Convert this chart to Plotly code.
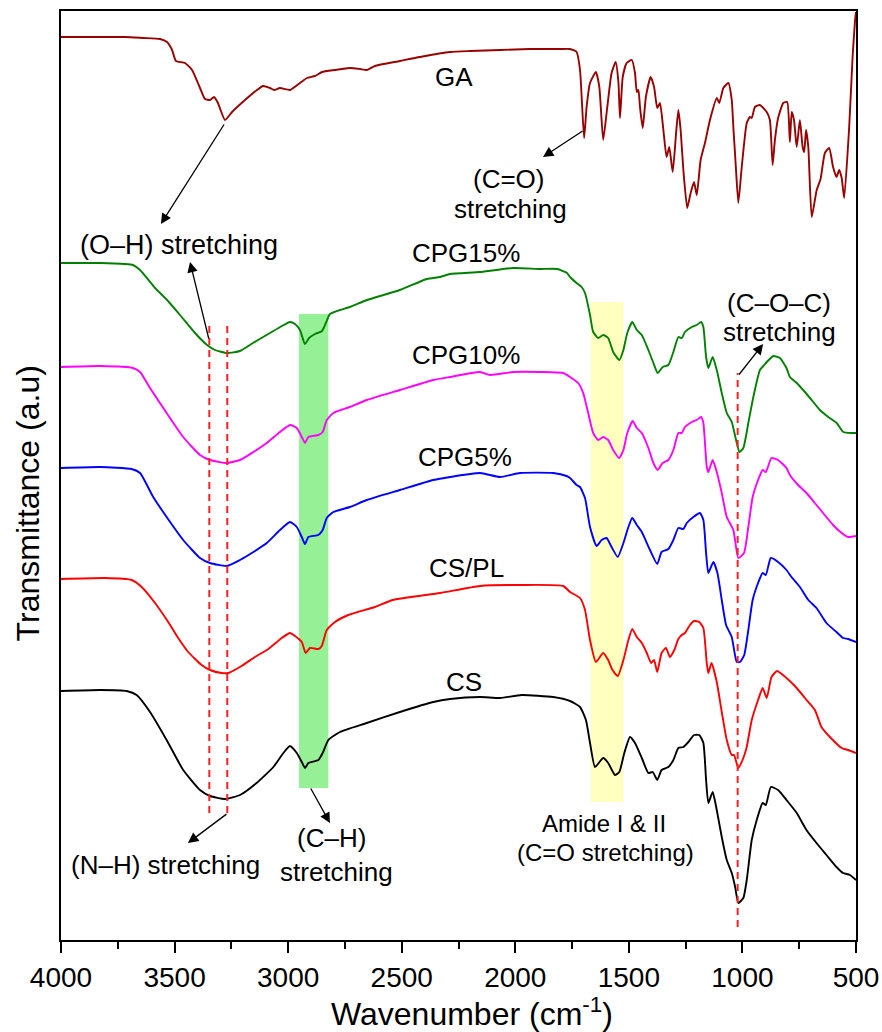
import plotly.graph_objects as go

# ---------------- data (wavenumber in cm-1, transmittance in a.u.) ----------------
ga_wn = [4000, 3828, 3718, 3639, 3564, 3533, 3511, 3494, 3454, 3423, 3388, 3366, 3344, 3326, 3309, 3278,
         3247, 3190, 3137, 3111, 3080, 3062, 3036, 2992, 2948, 2917, 2882, 2851, 2794, 2728, 2684, 2653,
         2618, 2508, 2420, 2287, 2199, 2067, 1935, 1803, 1759, 1730, 1715, 1697, 1686, 1671, 1645, 1630,
         1613, 1595, 1576, 1558, 1546, 1539, 1527, 1510, 1487, 1473, 1465, 1458, 1451, 1439, 1425, 1404,
         1389, 1375, 1363, 1348, 1334, 1322, 1307, 1292, 1282, 1272, 1260, 1243, 1228, 1213, 1201, 1184,
         1165, 1143, 1113, 1102, 1084, 1062, 1047, 1040, 1030, 1018, 1003, 981, 967, 959, 945, 923, 893,
         879, 867, 857, 843, 820, 803, 791, 783, 773, 761, 747, 735, 728, 720, 710, 695, 673, 656, 637,
         618, 601, 586, 574, 563, 552, 530, 515, 504, 500]
ga_t = [903, 903, 903, 902, 901, 898, 890, 879, 877, 870, 852, 841, 840, 843, 837, 820,
        828, 840, 850, 854, 852, 850, 852, 850, 857, 862, 864, 868, 870, 872, 871, 870,
        874, 879, 883, 888, 889, 890, 891, 891, 891, 888, 870, 802, 833, 857, 868, 853,
        800, 833, 867, 878, 858, 822, 863, 877, 880, 867, 848, 850, 833, 812, 843, 863,
        853, 832, 837, 810, 783, 793, 768, 807, 830, 810, 770, 732, 747, 758, 745, 780,
        797, 820, 842, 837, 852, 857, 840, 813, 777, 737, 773, 817, 823, 822, 833, 835, 828,
        820, 775, 800, 822, 837, 838, 798, 828, 820, 793, 820, 793, 788, 810, 793, 723, 750, 761, 787,
        792, 773, 763, 770, 762, 742, 813, 883, 920, 928]

cpg15_wn = [4000, 3828, 3718, 3683, 3652, 3586, 3533, 3476, 3410, 3357, 3322, 3269, 3212, 3155, 3080,
            3027, 2992, 2970, 2948, 2926, 2908, 2882, 2851, 2834, 2816, 2772, 2728, 2653, 2508, 2389,
            2331, 2287, 2155, 2010, 1891, 1816, 1772, 1759, 1730, 1708, 1693, 1671, 1657, 1635, 1613,
            1591, 1569, 1542, 1524, 1507, 1485, 1465, 1443, 1414, 1392, 1373, 1351, 1326, 1304, 1282,
            1267, 1253, 1223, 1201, 1182, 1172, 1160, 1150, 1131, 1113, 1091, 1069, 1047, 1028, 1013,
            996, 974, 952, 923, 904, 893, 864, 835, 806, 791, 761, 725, 688, 659, 622, 585, 556, 519, 500]
cpg15_t = [677, 677, 676, 675, 670, 652, 640, 625, 607, 595, 590, 587, 589, 597, 607,
           614, 618, 616, 610, 596, 602, 606, 609, 617, 626, 630, 633, 640, 650, 661,
           663, 666, 668, 672, 671, 671, 667, 663, 657, 653, 647, 625, 608, 602, 605,
           602, 588, 580, 590, 607, 618, 610, 605, 590, 577, 567, 573, 575, 588, 603,
           602, 608, 613, 615, 618, 613, 583, 572, 583, 570, 547, 527, 518, 500, 488,
           492, 517, 543, 570, 575, 578, 584, 582, 572, 563, 557, 548, 538, 530, 523, 517, 508, 507, 507]

cpg10_wn = [4000, 3828, 3683, 3652, 3608, 3535, 3462, 3388, 3344, 3270, 3212, 3153, 3094, 3036, 2992,
            2962, 2940, 2926, 2911, 2867, 2848, 2830, 2801, 2728, 2654, 2508, 2361, 2287, 2155, 2111,
            2009, 1891, 1789, 1759, 1723, 1701, 1679, 1657, 1635, 1613, 1591, 1569, 1543, 1524, 1507,
            1483, 1465, 1443, 1414, 1392, 1373, 1351, 1326, 1304, 1282, 1267, 1253, 1223, 1201, 1182,
            1172, 1157, 1150, 1131, 1113, 1091, 1069, 1040, 1018, 993, 974, 955, 931, 911, 897, 872,
            843, 806, 791, 755, 718, 681, 645, 601, 563, 535, 500]
cpg10_t = [573, 574, 572, 568, 552, 527, 503, 485, 480, 477, 480, 488, 497, 508, 515,
           512, 503, 497, 503, 505, 508, 520, 527, 533, 540, 550, 560, 563, 568, 565,
           568, 568, 567, 563, 557, 547, 527, 507, 500, 503, 500, 490, 482, 490, 507,
           519, 512, 507, 492, 477, 470, 477, 480, 490, 507, 507, 513, 518, 520, 523,
           517, 473, 468, 480, 468, 447, 423, 410, 382, 387, 413, 443, 460, 470, 468, 482,
           480, 472, 465, 455, 447, 437, 427, 415, 407, 403, 404]

cpg5_wn = [4000, 3828, 3689, 3652, 3594, 3535, 3462, 3388, 3344, 3270, 3212, 3153, 3094, 3036, 2992,
           2962, 2940, 2926, 2911, 2867, 2848, 2830, 2801, 2728, 2654, 2508, 2361, 2287, 2155, 2067,
           1979, 1833, 1774, 1759, 1730, 1715, 1693, 1671, 1642, 1620, 1598, 1576, 1549, 1524, 1502,
           1485, 1465, 1443, 1407, 1375, 1356, 1326, 1304, 1282, 1260, 1245, 1216, 1187, 1172, 1160,
           1150, 1128, 1110, 1091, 1072, 1047, 1025, 1011, 992, 974, 955, 931, 911, 897, 875, 843,
           806, 784, 747, 710, 674, 630, 586, 557, 535, 500]
cpg5_t = [472, 473, 471, 467, 443, 423, 400, 382, 377, 374, 380, 388, 397, 410, 418,
          413, 403, 396, 403, 405, 410, 422, 428, 433, 440, 450, 460, 463, 467, 463,
          467, 467, 464, 462, 455, 453, 442, 413, 394, 400, 402, 393, 383, 397, 413,
          422, 415, 408, 390, 376, 388, 391, 400, 412, 411, 417, 423, 427, 420, 387,
          367, 378, 367, 340, 315, 303, 278, 278, 285, 310, 340, 357, 367, 365, 382, 378,
          370, 363, 353, 340, 332, 317, 308, 302, 301, 298]

cspl_wn = [4000, 3806, 3689, 3645, 3586, 3528, 3484, 3440, 3381, 3344, 3293, 3264, 3205, 3146, 3087,
           3028, 2992, 2970, 2940, 2923, 2904, 2867, 2852, 2830, 2794, 2735, 2618, 2540, 2331, 2155,
           1979, 1789, 1759, 1715, 1693, 1671, 1645, 1613, 1591, 1572, 1549, 1524, 1502, 1485, 1465,
           1443, 1421, 1402, 1389, 1375, 1356, 1337, 1319, 1300, 1282, 1267, 1253, 1231, 1213, 1190,
           1172, 1157, 1150, 1136, 1113, 1091, 1069, 1047, 1037, 1018, 996, 981, 959, 931, 911, 893,
           872, 847, 806, 761, 725, 681, 652, 615, 563, 535, 500]
cspl_t = [361, 362, 360, 353, 337, 318, 302, 288, 275, 270, 267, 267, 274, 283, 291,
          302, 307, 304, 298, 287, 292, 291, 294, 310, 318, 325, 333, 340, 347, 354,
          355, 354, 348, 342, 330, 300, 278, 287, 280, 270, 264, 280, 300, 311, 303,
          297, 287, 277, 280, 268, 287, 292, 283, 290, 301, 305, 307, 315, 319, 318,
          312, 277, 267, 277, 258, 228, 200, 185, 185, 172, 182, 193, 220, 240, 252, 242,
          263, 269, 262, 252, 242, 230, 213, 203, 192, 190, 187]

cs_wn = [4000, 3828, 3711, 3667, 3608, 3535, 3462, 3388, 3344, 3278, 3212, 3139, 3065, 3021, 2992,
         2962, 2940, 2926, 2911, 2867, 2848, 2823, 2772, 2654, 2508, 2361, 2287, 2155, 2067, 1972,
         1833, 1759, 1715, 1689, 1671, 1649, 1613, 1591, 1561, 1542, 1520, 1495, 1473, 1443, 1414,
         1395, 1375, 1356, 1326, 1304, 1282, 1260, 1238, 1213, 1190, 1172, 1160, 1150, 1131, 1113,
         1091, 1069, 1047, 1032, 1018, 996, 981, 959, 937, 911, 897, 875, 843, 806, 761, 718, 674,
         630, 586, 557, 527, 500]
cs_t = [249, 250, 249, 245, 228, 200, 170, 150, 144, 141, 145, 157, 173, 187, 194,
        187, 178, 172, 177, 180, 187, 200, 208, 217, 228, 238, 241, 243, 242, 245,
        243, 239, 233, 220, 197, 173, 182, 177, 165, 168, 187, 203, 197, 182, 167,
        168, 160, 170, 173, 180, 192, 193, 198, 205, 205, 197, 160, 137, 148, 130,
        103, 80, 67, 53, 37, 42, 60, 100, 120, 137, 135, 153, 150, 140, 127, 110, 97,
        85, 73, 67, 65, 60]

series_names = ["GA", "CPG15%", "CPG10%", "CPG5%", "CS/PL", "CS"]
series_colors = ["#990000", "#008000", "#FF00FF", "#0000FF", "#FF0000", "#000000"]
series_wn = [ga_wn, cpg15_wn, cpg10_wn, cpg5_wn, cspl_wn, cs_wn]
series_t = [ga_t, cpg15_t, cpg10_t, cpg5_t, cspl_t, cs_t]

tick_vals = [4000, 3500, 3000, 2500, 2000, 1500, 1000, 500]
tick_text = ["4000", "3500", "3000", "2500", "2000", "1500", "1000", "500"]

# label positions (wavenumber, transmittance)
curve_labels = [("GA", 2270, 863), ("CPG15%", 2217, 687), ("CPG10%", 2217, 585),
                ("CPG5%", 2221, 483), ("CS/PL", 2213, 372), ("CS", 2226, 258)]
band_labels = [("(O–H) stretching", 3480, 695, 27), ("(C=O)", 2026, 761, 26), ("stretching", 2023, 731, 26),
               ("(N–H) stretching", 3542, 75, 26), ("(C–H)", 2807, 102, 26), ("stretching", 2785, 68, 26),
               ("Amide I & II", 1609, 117, 24), ("(C=O stretching)", 1605, 88, 24),
               ("(C–O–C)", 839, 637, 26), ("stretching", 835, 608, 26)]
# arrows: (tail wn, tail T, head wn, head T)
arrows = [(3278, 817, 3560, 716), (3348, 600, 3432, 678), (1697, 810, 1878, 783),
          (1020, 564, 909, 596), (3265, 127, 3441, 97), (2904, 153, 2816, 117)]
# dashed marker lines: (wn, T bottom, T top)
dash_lines = [(3347, 127, 615), (3268, 127, 615), (1021, 13, 567)]
# highlighted bands: (wn0, wn1, T0, T1, colour)
bands = [(2952, 2823, 152, 626, "rgb(150,240,150)"), (1668, 1524, 138, 638, "rgb(255,255,192)")]

FONT = "Liberation Sans, Arial, sans-serif"

fig = go.Figure()
for name, col, xs, ys in zip(series_names, series_colors, series_wn, series_t):
    fig.add_trace(go.Scatter(x=xs, y=ys, mode="lines", name=name,
                             line=dict(color=col, width=1.9, shape="spline", smoothing=0.5),
                             showlegend=False))

for x0, x1, y0, y1, c in bands:
    fig.add_shape(type="rect", x0=x0, x1=x1, y0=y0, y1=y1, xref="x", yref="y",
                  fillcolor=c, line=dict(width=0), layer="below")

for xv, y0, y1 in dash_lines:
    fig.add_shape(type="line", x0=xv, x1=xv, y0=y0, y1=y1, xref="x", yref="y",
                  line=dict(color="#FF2020", width=2, dash="7px,5px"))

for txt, xv, yv in curve_labels:
    fig.add_annotation(x=xv, y=yv, text=txt, showarrow=False, xref="x", yref="y",
                       font=dict(family=FONT, size=26, color="black"))
for txt, xv, yv, fs in band_labels:
    fig.add_annotation(x=xv, y=yv, text=txt, showarrow=False, xref="x", yref="y",
                       font=dict(family=FONT, size=fs, color="black"))
for tx, ty, hx, hy in arrows:
    fig.add_annotation(x=hx, y=hy, ax=tx, ay=ty, xref="x", yref="y", axref="x", ayref="y",
                       text="", showarrow=True, arrowhead=2, arrowsize=1.6, arrowwidth=1.3,
                       arrowcolor="black", standoff=0, startstandoff=0)

fig.add_annotation(x=0.517, y=-0.0775, xref="paper", yref="paper", showarrow=False,
                   text="Wavenumber (cm<sup>-1</sup>)", yanchor="middle",
                   font=dict(family=FONT, size=32, color="black"))
fig.add_annotation(x=-0.0415, y=0.47, xref="paper", yref="paper", showarrow=False,
                   text="Transmittance (a.u)", textangle=-90, xanchor="center", yanchor="middle",
                   font=dict(family=FONT, size=32, color="black"))

fig.update_xaxes(range=[4000, 500], tickmode="array", tickvals=tick_vals, ticktext=tick_text,
                 ticks="outside", ticklen=11, tickwidth=1.5, tickcolor="black",
                 minor=dict(ticks="outside", ticklen=7, tickwidth=1.5, tickcolor="black", dtick=250, tick0=500),
                 showline=True, linecolor="black", linewidth=2, mirror=True, showgrid=False, zeroline=False,
                 automargin=False,
                 tickfont=dict(family=FONT, size=28, color="black"))
fig.update_yaxes(range=[0, 929], showticklabels=False, ticks="", showline=True, linecolor="black",
                 linewidth=2, mirror=True, showgrid=False, zeroline=False, automargin=False)

fig.update_layout(width=882, height=1032, margin=dict(l=61, r=26, t=11, b=92, autoexpand=False),
                  plot_bgcolor="white", paper_bgcolor="white", showlegend=False)

fig.write_html("out.html", config={"displayModeBar": False},
               post_script="document.body.style.margin='0';document.body.style.overflow='hidden';")
